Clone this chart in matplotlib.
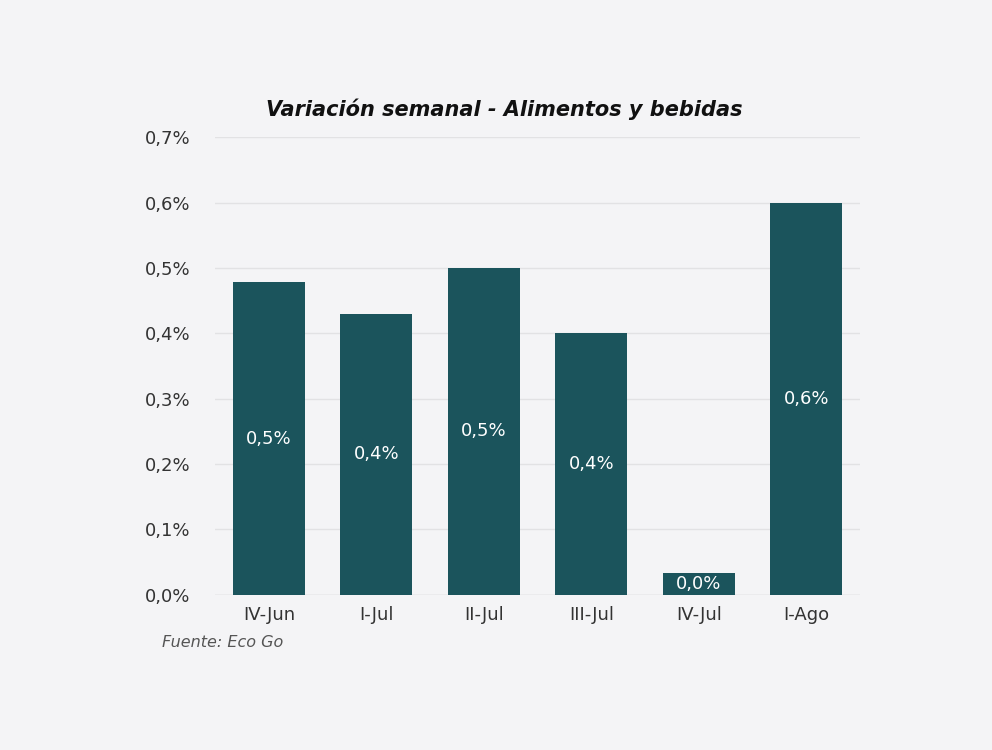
import matplotlib
matplotlib.use("Agg")
import matplotlib.pyplot as plt
from matplotlib.ticker import FuncFormatter

categories = ["IV-Jun", "I-Jul", "II-Jul", "III-Jul", "IV-Jul", "I-Ago"]
values = [0.478, 0.43, 0.50, 0.40, 0.034, 0.60]
labels = ["0,5%", "0,4%", "0,5%", "0,4%", "0,0%", "0,6%"]

bg = "#f4f4f6"
bar_color = "#1b545c"

fig = plt.figure(figsize=(9.92, 7.5), dpi=100, facecolor=bg)
ax = fig.add_axes([0.217, 0.207, 0.65, 0.61], facecolor=bg)

x = range(len(categories))
ax.bar(x, values, width=0.67, color=bar_color, zorder=2)
for i, (v, lab) in enumerate(zip(values, labels)):
    ax.text(i, v / 2, lab, ha="center", va="center", color="white", fontsize=13, zorder=3)

ax.set_ylim(0, 0.7)
ax.set_xlim(-0.5, 5.5)
ax.set_yticks([0, 0.1, 0.2, 0.3, 0.4, 0.5, 0.6, 0.7])
ax.yaxis.set_major_formatter(FuncFormatter(lambda y, p: f"{y:.1f}%".replace(".", ",")))
ax.set_xticks(list(x))
ax.set_xticklabels(categories)
ax.tick_params(axis="both", length=0, labelsize=13, colors="#333333")
ax.tick_params(axis="y", pad=18)
ax.tick_params(axis="x", pad=8)
ax.grid(axis="y", color="#e2e2e4", linewidth=1, zorder=0)
for s in ax.spines.values():
    s.set_visible(False)
ax.axhline(0, color="#d8d8da", linewidth=1, zorder=1)

fig.text(0.508, 0.855, "Variación semanal - Alimentos y bebidas", ha="center", va="center",
         fontsize=15, fontweight="bold", fontstyle="italic", color="#111111")
fig.text(0.163, 0.143, "Fuente: Eco Go", ha="left", va="center", fontsize=11.5,
         fontstyle="italic", color="#555555")

fig.savefig("out.png", dpi=100, facecolor=bg)
